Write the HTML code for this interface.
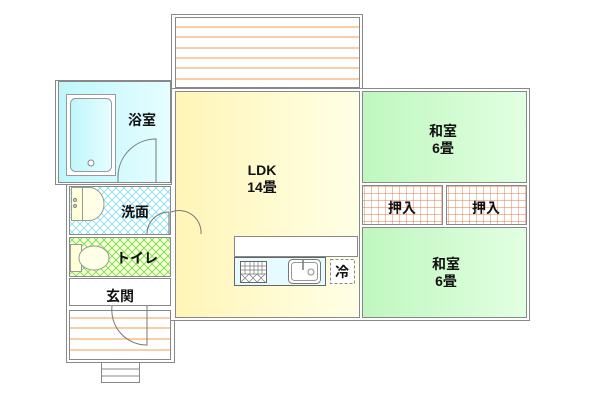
<!DOCTYPE html>
<html><head><meta charset="utf-8"><style>
html,body{margin:0;padding:0;background:#fff;width:600px;height:400px;overflow:hidden}
text{font-family:"Liberation Sans","Noto Sans CJK JP",sans-serif;font-weight:bold;font-size:14px;fill:#111;text-anchor:middle}
</style></head><body>
<svg width="600" height="400" viewBox="0 0 600 400" xmlns="http://www.w3.org/2000/svg">
<defs>
<linearGradient id="gy" x1="0" x2="1"><stop offset="0" stop-color="#fff5b8"/><stop offset="1" stop-color="#ffffe6"/></linearGradient>
<linearGradient id="gg" x1="0" x2="1"><stop offset="0" stop-color="#bff7bf"/><stop offset="1" stop-color="#e2ffe2"/></linearGradient>
<linearGradient id="gc" x1="0" x2="1"><stop offset="0" stop-color="#bff6fb"/><stop offset="1" stop-color="#e6feff"/></linearGradient>
<pattern id="hc" width="8" height="8" patternUnits="userSpaceOnUse"><rect width="8" height="8" fill="#fff"/><path d="M0 0L8 8M8 0L0 8" stroke="#7fe0ee" stroke-width="0.8"/></pattern>
<pattern id="hg" width="8" height="8" patternUnits="userSpaceOnUse"><rect width="8" height="8" fill="#fbffd0"/><path d="M0 0L8 8M8 0L0 8" stroke="#66dd55" stroke-width="0.8"/></pattern>
<pattern id="gr" width="7" height="7" patternUnits="userSpaceOnUse" x="364" y="186"><rect width="7" height="7" fill="#fff"/><path d="M0 0H7M0 0V7" stroke="#e07a4a" stroke-width="0.9"/></pattern>
</defs>
<g stroke="#888" fill="none">
<!-- balcony -->
<rect x="171.5" y="14.5" width="191" height="74" fill="#fff"/>
<rect x="175.5" y="17.5" width="184" height="70" fill="#fff"/>
<g stroke="#f5b070" stroke-width="1.2"><path d="M176 27H359M176 37H359M176 48H359M176 58H359M176 68H359M176 79H359"/></g>
<!-- right building outline -->
<path d="M359.5 88.5H529.5V320.5H171.5V320"/>
<!-- LDK -->
<rect x="175.5" y="91.5" width="184" height="226" fill="url(#gy)"/>
<!-- washitsu -->
<rect x="362.5" y="91.5" width="164" height="91" fill="url(#gg)"/>
<rect x="362.5" y="227.5" width="164" height="90" fill="url(#gg)"/>
<rect x="362.5" y="185.5" width="80" height="39" fill="url(#gr)"/>
<rect x="446.5" y="185.5" width="80" height="39" fill="url(#gr)"/>
<!-- left outer -->
<path d="M66.5 184V362.5H174.5V320"/>
<rect x="55.5" y="80.5" width="116" height="104" fill="#fff"/>
<rect x="58.5" y="81.5" width="112" height="101" fill="url(#gc)"/>
<rect x="66.5" y="94.5" width="49" height="81" fill="#fff" stroke="#999"/>
<rect x="70.5" y="98.5" width="41" height="73" rx="5" fill="url(#gc)" stroke="#999"/>
<circle cx="91" cy="163" r="3" fill="#fff"/>
<path d="M156 182V139A38 38 0 0 0 118 177V182" stroke="#777"/>
<rect x="69.5" y="186.5" width="101" height="48" fill="url(#hc)"/>
<rect x="71.5" y="187.5" width="11" height="33" fill="#ffffd8" stroke="#999"/>
<path d="M82.5 187.5H89A15 16.5 0 0 1 89 220.5H82.5Z" fill="#ffffe8" stroke="#999"/>
<circle cx="75" cy="200" r="1.6" fill="#ccc"/><circle cx="75" cy="206" r="1.6" fill="#ccc"/>
<path d="M169 234V212A22 22 0 0 0 147 234M171 212A22 22 0 0 1 201 234" stroke="#777"/>
<rect x="69.5" y="237.5" width="101" height="39" fill="url(#hg)"/>
<rect x="70.5" y="244.5" width="11" height="27" fill="#ffffd8" stroke="#999"/>
<ellipse cx="94" cy="258" rx="15" ry="12" fill="#ffffe8" stroke="#999"/>
<rect x="69.5" y="278.5" width="101" height="27" fill="#fff"/>
<rect x="69.5" y="310.5" width="101" height="49" fill="#fff"/>
<g stroke="#f5b070" stroke-width="1.2"><path d="M70 318H170M70 328H170M70 339H170M70 350H170"/></g>
<path d="M147 306V345A35 35 0 0 1 112 306" stroke="#777"/>
<rect x="101.5" y="362.5" width="38" height="20" fill="#fff"/>
<path d="M102 369H139M102 376H139"/>
<!-- kitchen -->
<rect x="234.5" y="236.5" width="123" height="20" fill="#fff"/>
<rect x="234.5" y="257.5" width="91" height="28" fill="#e6fbff" stroke="#666"/>
<rect x="240.5" y="261.5" width="26" height="21" fill="#fff" stroke="#666"/>
<path d="M241 266H266M241 270H266M241 274H266M245 262V274M250 262V274M254 262V274M258 262V274M262 262V274M241 274L249 282M249 274L241 282M249 274L257 282M257 274L249 282M257 274L265 282M265 274L257 282" stroke="#777" stroke-width="0.7"/>
<rect x="288.5" y="259.5" width="32" height="24" rx="4" fill="#fff" stroke="#777"/>
<rect x="291.5" y="262.5" width="26" height="18" rx="3" stroke="#999"/>
<circle cx="311" cy="272" r="3"/>
<path d="M303 260V270" stroke="#777" stroke-width="1.5"/>
<rect x="330.5" y="259.5" width="24" height="24" fill="#fff" stroke="#888" stroke-dasharray="3,2"/>
</g>
<text x="142" y="125">浴室</text>
<text x="135" y="217">洗面</text>
<text x="137" y="263">トイレ</text>
<text x="120" y="301">玄関</text>
<text x="262" y="175">LDK</text>
<text x="262" y="192">14畳</text>
<text x="443" y="136">和室</text>
<text x="443" y="153">6畳</text>
<text x="402" y="213">押入</text>
<text x="486" y="213">押入</text>
<text x="446" y="269">和室</text>
<text x="446" y="286">6畳</text>
<text x="342" y="277">冷</text>
</svg>
</body></html>
